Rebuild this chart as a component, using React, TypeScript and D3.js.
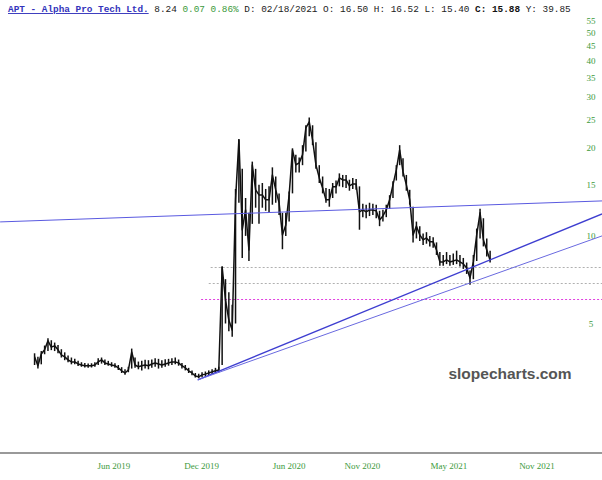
import React from 'react';
import * as d3 from 'd3';

// ---------- data ----------
const TITLE = 'APT - Alpha Pro Tech Ltd.';
const LAST = '8.24';
const CHANGE = '0.07 0.86%';
const QUOTE = 'D: 02/18/2021 O: 16.50 H: 16.52 L: 15.40';
const CLOSE_LABEL = 'C: 15.88';
const YEAR_LABEL = 'Y: 39.85';

const START_DATE = '2018-12-17';
const WEEKLY_CLOSE = [
  3.84, 3.58, 3.93, 4.06, 4.36, 4.15, 4.19, 4.06, 3.90, 3.84,
  3.75, 3.69, 3.69, 3.63, 3.60, 3.58, 3.58, 3.58, 3.60, 3.69,
  3.75, 3.66, 3.63, 3.60, 3.58, 3.52, 3.44, 3.38, 3.46, 3.99,
  3.60, 3.55, 3.58, 3.60, 3.58, 3.63, 3.66, 3.63, 3.60, 3.63,
  3.66, 3.69, 3.69, 3.66, 3.58, 3.52, 3.44, 3.38, 3.30, 3.28,
  3.33, 3.35, 3.38, 3.41, 3.44, 3.46, 7.82, 6.03, 5.14, 4.75,
  13.30, 21.38, 10.49, 12.28, 8.95, 17.54, 14.39, 13.83, 13.83, 13.30,
  13.30, 16.20, 14.39, 12.98, 10.08, 10.91, 13.83, 19.75, 17.54, 17.82,
  18.99, 23.50, 24.65, 21.38, 17.54, 15.82, 14.62, 13.30, 13.30, 14.74,
  14.74, 15.82, 15.57, 15.57, 14.85, 15.09, 15.09, 12.09, 12.28, 12.09,
  12.28, 12.28, 12.19, 11.35, 11.71, 12.28, 13.30, 14.97, 16.86, 19.75,
  16.59, 14.97, 13.30, 10.08, 10.82, 10.08, 9.69, 9.84, 9.54, 9.54,
  8.95, 8.14, 8.14, 8.27, 8.14, 8.20, 8.27, 8.14, 8.01, 7.76,
  7.17, 8.14, 10.08, 12.00, 9.69, 8.95, 8.24,
];
const WEEKLY_HIGH = [
  3.95, 3.84, 4.02, 4.20, 4.45, 4.38, 4.30, 4.22, 4.08, 3.98,
  3.88, 3.82, 3.78, 3.72, 3.68, 3.66, 3.64, 3.65, 3.68, 3.80,
  3.82, 3.76, 3.72, 3.68, 3.65, 3.60, 3.54, 3.48, 3.55, 4.10,
  3.82, 3.70, 3.72, 3.75, 3.74, 3.76, 3.80, 3.78, 3.74, 3.77,
  3.78, 3.80, 3.82, 3.76, 3.66, 3.60, 3.52, 3.45, 3.38, 3.36,
  3.40, 3.42, 3.45, 3.48, 3.52, 3.55, 7.85, 7.10, 6.40, 5.80,
  14.50, 21.50, 17.00, 13.50, 12.00, 18.00, 17.00, 15.00, 15.20, 14.50,
  14.80, 17.20, 16.00, 14.00, 12.00, 12.00, 14.20, 20.00, 19.00, 18.60,
  20.50, 24.00, 25.50, 24.00, 21.00, 17.50, 16.00, 14.60, 14.50, 15.20,
  15.50, 16.40, 16.20, 16.20, 15.60, 15.80, 15.70, 14.80, 12.90, 12.80,
  13.00, 12.90, 12.80, 12.20, 12.30, 12.80, 13.80, 15.40, 17.50, 20.50,
  18.50, 16.20, 14.40, 12.60, 11.20, 10.80, 10.20, 10.30, 10.00, 9.90,
  9.50, 8.80, 8.60, 8.80, 8.60, 8.70, 8.90, 8.60, 8.40, 8.10,
  7.60, 8.60, 10.60, 12.40, 11.50, 9.80, 8.90,
];
const WEEKLY_LOW = [
  3.60, 3.50, 3.62, 3.92, 4.02, 4.05, 4.02, 3.95, 3.82, 3.74,
  3.68, 3.62, 3.62, 3.57, 3.55, 3.53, 3.52, 3.53, 3.55, 3.60,
  3.64, 3.60, 3.58, 3.55, 3.52, 3.46, 3.38, 3.33, 3.40, 3.50,
  3.52, 3.48, 3.45, 3.50, 3.48, 3.52, 3.55, 3.50, 3.52, 3.55,
  3.58, 3.60, 3.62, 3.58, 3.50, 3.45, 3.38, 3.32, 3.26, 3.24,
  3.27, 3.29, 3.32, 3.35, 3.38, 3.40, 3.60, 5.00, 4.70, 4.50,
  5.00, 13.00, 8.40, 10.00, 8.20, 11.00, 12.50, 11.00, 12.50, 12.20,
  12.00, 12.80, 13.00, 11.80, 9.00, 10.00, 11.20, 14.00, 16.50, 16.50,
  17.50, 19.50, 22.00, 20.50, 17.00, 15.20, 14.00, 13.00, 12.60, 13.50,
  14.00, 14.80, 14.70, 14.60, 14.30, 14.50, 14.40, 10.50, 11.60, 11.50,
  11.70, 11.80, 11.50, 10.80, 11.20, 11.60, 12.40, 13.50, 15.50, 17.50,
  16.00, 14.30, 12.80, 9.50, 9.80, 9.60, 9.30, 9.40, 9.20, 9.10,
  8.60, 7.90, 7.90, 8.00, 7.90, 7.95, 8.00, 7.85, 7.70, 7.40,
  6.80, 7.10, 8.20, 9.80, 9.20, 8.50, 8.10,
];

const Y_TICKS = [5, 10, 15, 20, 25, 30, 35, 40, 45, 50, 55];
const X_TICK_DATES = ['2019-06-01', '2019-12-01', '2020-06-01', '2020-11-01', '2021-05-01', '2021-11-01'];
const X_TICK_LABELS = ['Jun 2019', 'Dec 2019', 'Jun 2020', 'Nov 2020', 'May 2021', 'Nov 2021'];

// drawn trend lines: [startDate, startValue, endDate, endValue]
const HORIZONTAL_TREND: [string, number, string, number] = ['2018-10-06', 11.17, '2022-03-17', 13.19];
const UPPER_TREND: [string, number, string, number] = ['2019-11-23', 3.2, '2022-03-17', 11.9];
const LOWER_TREND: [string, number, string, number] = ['2019-11-23', 3.2, '2022-03-17', 10.0];

// dotted level lines: [startDate, value]
const GRAY_LEVELS: [string, number][] = [['2019-12-20', 7.79], ['2019-12-16', 6.87]];
const MAGENTA_LEVEL: [string, number] = ['2019-11-30', 6.05];
const LEVEL_END = '2022-03-20';

// ---------- chart ----------
const W = 602;
const H = 480;
const parse = d3.timeParse('%Y-%m-%d');

export default function App() {
  const x = d3
    .scaleTime()
    .domain([parse('2019-06-01')!, parse('2021-11-01')!])
    .range([114, 537]);
  const y = d3.scaleLog().domain([5, 50]).range([323.5, 32.5]);

  const start = parse(START_DATE)!;
  const dates = WEEKLY_CLOSE.map((_, i) => d3.timeDay.offset(start, 7 * i));
  const pts = WEEKLY_CLOSE.map((v, i) => [dates[i], v] as [Date, number]);
  const line = d3
    .line<[Date, number]>()
    .x((d) => x(d[0]))
    .y((d) => y(d[1]));

  const seg = (t: [string, number, string, number]) => ({
    x1: x(parse(t[0])!),
    y1: y(t[1]),
    x2: x(parse(t[2])!),
    y2: y(t[3]),
  });

  const green = '#3c9a3c';

  return (
    <svg
      width={W}
      height={H}
      style={{ position: 'absolute', left: 0, top: 0, background: '#fff' }}
    >
      <rect width={W} height={H} fill="#fff" />
      {/* header */}
      <text
        x={8}
        y={12}
        fontFamily="'Liberation Mono', 'DejaVu Sans Mono', monospace"
        fontSize={9.4}
        xmlSpace="preserve"
        style={{ whiteSpace: 'pre' }}
      >
        <tspan fill="#3333bb" fontWeight="bold" style={{ textDecoration: 'underline' }}>
          {TITLE}
        </tspan>
        <tspan fill="#222"> {LAST} </tspan>
        <tspan fill={green}>{CHANGE}</tspan>
        <tspan fill="#222"> {QUOTE} </tspan>
        <tspan fill="#111" fontWeight="bold">{CLOSE_LABEL}</tspan>
        <tspan fill="#222"> {YEAR_LABEL}</tspan>
      </text>

      {/* y axis labels */}
      {Y_TICKS.map((t) => (
        <text
          key={t}
          x={591}
          y={y(t)}
          dy="0.35em"
          textAnchor="middle"
          fontFamily="'Liberation Serif', serif"
          fontSize={9}
          fill={green}
        >
          {t}
        </text>
      ))}

      {/* x axis */}
      <line x1={0} x2={W} y1={453} y2={453} stroke="#999" strokeWidth={2} />
      {X_TICK_DATES.map((d, i) => (
        <text
          key={d}
          x={x(parse(d)!)}
          y={466}
          dy="0.35em"
          textAnchor="middle"
          fontFamily="'Liberation Serif', serif"
          fontSize={9}
          fill={green}
        >
          {X_TICK_LABELS[i]}
        </text>
      ))}

      {/* level lines */}
      {GRAY_LEVELS.map((l, i) => (
        <line
          key={i}
          x1={x(parse(l[0])!)}
          x2={x(parse(LEVEL_END)!)}
          y1={Math.round(y(l[1])) + 0.5}
          y2={Math.round(y(l[1])) + 0.5}
          stroke="#b0b0b0"
          strokeWidth={1}
          strokeDasharray="2,2"
        />
      ))}
      <line
        x1={x(parse(MAGENTA_LEVEL[0])!)}
        x2={x(parse(LEVEL_END)!)}
        y1={Math.round(y(MAGENTA_LEVEL[1])) + 0.5}
        y2={Math.round(y(MAGENTA_LEVEL[1])) + 0.5}
        stroke="#e040e0"
        strokeWidth={1}
        strokeDasharray="2,2"
      />

      {/* watermark */}
      <text
        x={510}
        y={374}
        dy="0.35em"
        textAnchor="middle"
        fontFamily="'Liberation Sans', Arial, sans-serif"
        fontWeight="bold"
        fontSize={15.5}
        fill="#555"
      >
        slopecharts.com
      </text>

      {/* price: weekly high-low ranges + close line */}
      <g stroke="#111" strokeWidth={1.5}>
        {dates.map((d, i) => (
          <line key={i} x1={x(d)} x2={x(d)} y1={y(WEEKLY_HIGH[i])} y2={y(WEEKLY_LOW[i])} />
        ))}
      </g>
      <path d={line(pts) || ''} fill="none" stroke="#111" strokeWidth={1.5} strokeLinejoin="round" />

      {/* trend lines */}
      <line {...seg(HORIZONTAL_TREND)} stroke="#5a5ae0" strokeWidth={1} />
      <line {...seg(UPPER_TREND)} stroke="#3e3ed0" strokeWidth={1.3} />
      <line {...seg(LOWER_TREND)} stroke="#6a6ae0" strokeWidth={1} />
    </svg>
  );
}
